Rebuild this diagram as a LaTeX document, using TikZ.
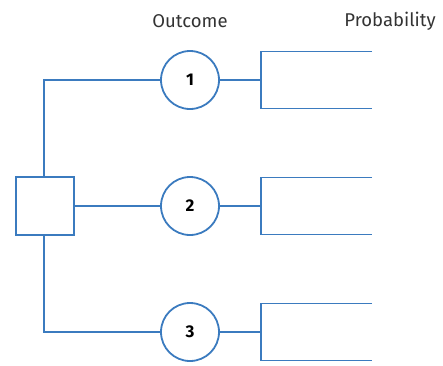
\documentclass[tikz,border=0pt]{standalone}
\usepackage{fontspec}
\setmainfont{Fira Sans}
\definecolor{lineblue}{HTML}{3B7BBF}
\begin{document}
\begin{tikzpicture}[x=1pt,y=-1pt,
  ln/.style={draw=lineblue,line width=1.8pt},
  chance/.style={circle,ln,minimum size=58pt,inner sep=0pt,font=\fontsize{17}{20}\selectfont\bfseries},
  decision/.style={rectangle,ln,minimum size=58pt,inner sep=0pt},
  hdr/.style={font=\fontsize{18.5}{22}\selectfont,text=black!80}]
\useasboundingbox (0,0) rectangle (443,365);
\node[hdr] (hout) at (190,21) {Outcome};
\node[hdr] (hprob) at (390,21) {Probability};
\node[decision] (d) at (45,206) {};
\node[chance] (c1) at (190,80) {1};
\node[chance] (c2) at (190,206) {2};
\node[chance] (c3) at (190,332) {3};
\coordinate (j1) at (44,80);
\coordinate (j3) at (44,332);
\draw[ln] (c1.west) -- (j1) -- (d.north -| j1);
\draw[ln] (c3.west) -- (j3) -- (d.south -| j3);
\draw[ln] (d.east) -- (c2.west);
\foreach \i/\y in {1/80,2/206,3/332}{
  \coordinate (f\i) at (261,\y);
  \coordinate (t\i) at (372,\y-28.5);
  \coordinate (b\i) at (372,\y+28.5);
  \draw[ln] (c\i.east) -- (f\i);
  \draw[ln] (t\i) -- (t\i -| f\i) -- (b\i -| f\i) -- (b\i);
}
\end{tikzpicture}
\end{document}
